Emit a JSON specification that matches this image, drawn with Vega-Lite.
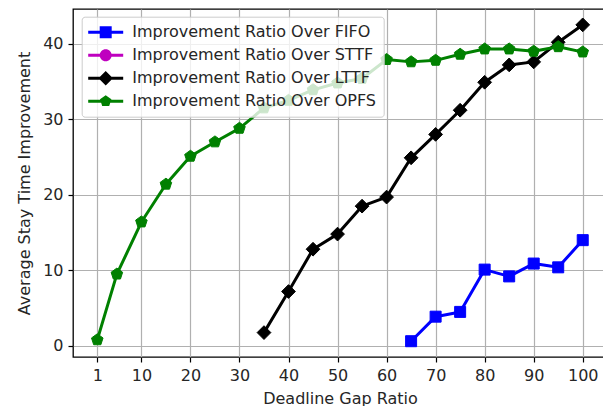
{
  "$schema": "https://vega.github.io/schema/vega-lite/v6.json",
  "width": 534,
  "height": 348,
  "autosize": {"type": "none"},
  "padding": {"left": 73, "top": 9, "right": 0, "bottom": 49},
  "background": "white",
  "config": {
    "font": "DejaVu Sans",
    "view": {"stroke": "black", "strokeWidth": 1.3},
    "axis": {
      "labelFont": "DejaVu Sans",
      "titleFont": "DejaVu Sans",
      "labelFontSize": 16,
      "titleFontSize": 16,
      "titleFontWeight": "normal",
      "labelColor": "#262626",
      "titleColor": "#262626",
      "grid": true,
      "gridColor": "#b0b0b0",
      "gridWidth": 1.2,
      "tickColor": "black",
      "tickSize": 5,
      "tickWidth": 1.2,
      "domain": false
    },
    "legend": {
      "labelFont": "DejaVu Sans",
      "labelFontSize": 16,
      "labelColor": "#262626",
      "labelLimit": 400,
      "fillColor": "rgba(255,255,255,0.8)",
      "strokeColor": "#cccccc",
      "cornerRadius": 3,
      "padding": 7.5,
      "rowPadding": 7,
      "symbolSize": 100,
      "symbolOffset": 8.5,
      "labelOffset": 18.5,
      "symbolStrokeWidth": 0
    }
  },
  "data": {
    "values": [
      {"x": 65, "y": 0.62, "series": "Improvement Ratio Over FIFO"},
      {"x": 70, "y": 3.87, "series": "Improvement Ratio Over FIFO"},
      {"x": 75, "y": 4.5, "series": "Improvement Ratio Over FIFO"},
      {"x": 80, "y": 10.1, "series": "Improvement Ratio Over FIFO"},
      {"x": 85, "y": 9.2, "series": "Improvement Ratio Over FIFO"},
      {"x": 90, "y": 10.9, "series": "Improvement Ratio Over FIFO"},
      {"x": 95, "y": 10.4, "series": "Improvement Ratio Over FIFO"},
      {"x": 100, "y": 14.0, "series": "Improvement Ratio Over FIFO"},
      {"x": 35, "y": 1.76, "series": "Improvement Ratio Over LTTF"},
      {"x": 40, "y": 7.2, "series": "Improvement Ratio Over LTTF"},
      {"x": 45, "y": 12.8, "series": "Improvement Ratio Over LTTF"},
      {"x": 50, "y": 14.8, "series": "Improvement Ratio Over LTTF"},
      {"x": 55, "y": 18.5, "series": "Improvement Ratio Over LTTF"},
      {"x": 60, "y": 19.7, "series": "Improvement Ratio Over LTTF"},
      {"x": 65, "y": 24.9, "series": "Improvement Ratio Over LTTF"},
      {"x": 70, "y": 28.0, "series": "Improvement Ratio Over LTTF"},
      {"x": 75, "y": 31.2, "series": "Improvement Ratio Over LTTF"},
      {"x": 80, "y": 34.9, "series": "Improvement Ratio Over LTTF"},
      {"x": 85, "y": 37.2, "series": "Improvement Ratio Over LTTF"},
      {"x": 90, "y": 37.6, "series": "Improvement Ratio Over LTTF"},
      {"x": 95, "y": 40.2, "series": "Improvement Ratio Over LTTF"},
      {"x": 100, "y": 42.5, "series": "Improvement Ratio Over LTTF"},
      {"x": 1, "y": 0.8, "series": "Improvement Ratio Over OPFS"},
      {"x": 5, "y": 9.5, "series": "Improvement Ratio Over OPFS"},
      {"x": 10, "y": 16.4, "series": "Improvement Ratio Over OPFS"},
      {"x": 15, "y": 21.4, "series": "Improvement Ratio Over OPFS"},
      {"x": 20, "y": 25.1, "series": "Improvement Ratio Over OPFS"},
      {"x": 25, "y": 27.0, "series": "Improvement Ratio Over OPFS"},
      {"x": 30, "y": 28.8, "series": "Improvement Ratio Over OPFS"},
      {"x": 35, "y": 31.5, "series": "Improvement Ratio Over OPFS"},
      {"x": 40, "y": 32.5, "series": "Improvement Ratio Over OPFS"},
      {"x": 45, "y": 33.9, "series": "Improvement Ratio Over OPFS"},
      {"x": 50, "y": 34.8, "series": "Improvement Ratio Over OPFS"},
      {"x": 55, "y": 35.4, "series": "Improvement Ratio Over OPFS"},
      {"x": 60, "y": 37.9, "series": "Improvement Ratio Over OPFS"},
      {"x": 65, "y": 37.6, "series": "Improvement Ratio Over OPFS"},
      {"x": 70, "y": 37.8, "series": "Improvement Ratio Over OPFS"},
      {"x": 75, "y": 38.6, "series": "Improvement Ratio Over OPFS"},
      {"x": 80, "y": 39.3, "series": "Improvement Ratio Over OPFS"},
      {"x": 85, "y": 39.3, "series": "Improvement Ratio Over OPFS"},
      {"x": 90, "y": 39.0, "series": "Improvement Ratio Over OPFS"},
      {"x": 95, "y": 39.6, "series": "Improvement Ratio Over OPFS"},
      {"x": 100, "y": 38.9, "series": "Improvement Ratio Over OPFS"}
    ]
  },
  "encoding": {
    "x": {
      "field": "x",
      "type": "quantitative",
      "scale": {"domain": [-3.95, 104.95], "nice": false, "zero": false},
      "axis": {"values": [1, 10, 20, 30, 40, 50, 60, 70, 80, 90, 100], "title": "Deadline Gap Ratio", "labelPadding": 5, "titlePadding": 7}
    },
    "y": {
      "field": "y",
      "type": "quantitative",
      "scale": {"domain": [-1.47, 44.6], "nice": false, "zero": false},
      "axis": {"values": [0, 10, 20, 30, 40], "title": "Average Stay Time Improvement", "labelPadding": 5, "titlePadding": 10}
    },
    "color": {
      "field": "series",
      "type": "nominal",
      "scale": {
        "domain": ["Improvement Ratio Over FIFO", "Improvement Ratio Over STTF", "Improvement Ratio Over LTTF", "Improvement Ratio Over OPFS"],
        "range": ["#0000ff", "#bf00bf", "#000000", "#008000"]
      },
      "legend": null
    }
  },
  "layer": [
    {
      "mark": {"type": "line", "strokeWidth": 3, "strokeJoin": "round", "strokeCap": "square"}
    },
    {
      "mark": {"type": "point", "filled": true, "size": 121, "opacity": 1, "strokeWidth": 1},
      "encoding": {
        "stroke": {"field": "series", "type": "nominal", "scale": {"domain": ["Improvement Ratio Over FIFO", "Improvement Ratio Over STTF", "Improvement Ratio Over LTTF", "Improvement Ratio Over OPFS"], "range": ["#0000ff", "#bf00bf", "#000000", "#008000"]}, "legend": null},
        "shape": {
          "field": "series",
          "type": "nominal",
          "scale": {
            "domain": ["Improvement Ratio Over FIFO", "Improvement Ratio Over STTF", "Improvement Ratio Over LTTF", "Improvement Ratio Over OPFS"],
            "range": ["square", "circle", "M0,-1.25L1.25,0L0,1.25L-1.25,0Z", "M0,-1.1L1.05,-0.34L0.65,0.89L-0.65,0.89L-1.05,-0.34Z"]
          },
          "legend": null
        }
      }
    },
    {
      "transform": [{"filter": "datum.x < -100"}],
      "mark": {"type": "point", "filled": true, "size": 100, "opacity": 1, "strokeWidth": 0},
      "encoding": {
        "color": {
          "field": "series",
          "type": "nominal",
          "scale": {
            "domain": ["Improvement Ratio Over FIFO", "Improvement Ratio Over STTF", "Improvement Ratio Over LTTF", "Improvement Ratio Over OPFS"],
            "range": ["#0000ff", "#bf00bf", "#000000", "#008000"]
          },
          "legend": {"title": null, "orient": "none", "legendX": 8.7, "legendY": 7.7}
        },
        "shape": {
          "field": "series",
          "type": "nominal",
          "scale": {
            "domain": ["Improvement Ratio Over FIFO", "Improvement Ratio Over STTF", "Improvement Ratio Over LTTF", "Improvement Ratio Over OPFS"],
            "range": [
              "M-3.5,-0.3H3.5V0.3H-3.5ZM-1.2,-1.2H1.2V1.2H-1.2Z",
              "M-3.5,-0.3H3.5V0.3H-3.5ZM-1.2,0A1.2,1.2 0 1,1 1.2,0A1.2,1.2 0 1,1 -1.2,0Z",
              "M-3.5,-0.3H3.5V0.3H-3.5ZM0,-1.45L1.45,0L0,1.45L-1.45,0Z",
              "M-3.5,-0.3H3.5V0.3H-3.5ZM0,-1.2L1.14,-0.37L0.7,0.97L-0.7,0.97L-1.14,-0.37Z"
            ]
          },
          "legend": {"title": null, "orient": "none", "legendX": 8.7, "legendY": 7.7}
        }
      }
    }
  ],
  "resolve": {"scale": {"shape": "independent"}, "legend": {"shape": "independent", "color": "independent"}}
}
